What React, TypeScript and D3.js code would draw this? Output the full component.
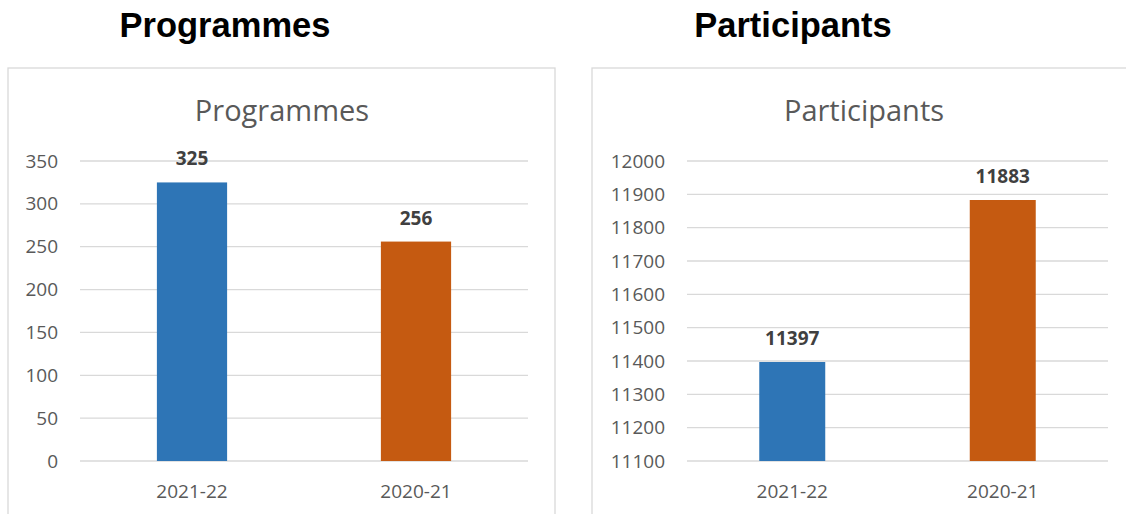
import React from "react";
import * as d3 from "d3";

const categories = ["2021-22", "2020-21"];
const programmeValues = [325, 256];
const participantValues = [11397, 11883];
const programmeTicks = [0, 50, 100, 150, 200, 250, 300, 350];
const participantTicks = [11100, 11200, 11300, 11400, 11500, 11600, 11700, 11800, 11900, 12000];
const colors = ["#2e75b6", "#c55a11"];

const FONT = "'Open Sans', 'Noto Sans', sans-serif";

type PanelProps = {
  title: string;
  values: number[];
  ticks: number[];
  domain: [number, number];
  box: { x: number; y: number; w: number; h: number };
  plot: { left: number; right: number; top: number; bottom: number };
  tickX: number;
  headingX: number;
  titleX: number;
};

function Panel({ title, values, ticks, domain, box, plot, tickX, headingX, titleX }: PanelProps) {
  const y = d3.scaleLinear().domain(domain).range([plot.bottom, plot.top]);
  const x = d3.scaleBand().domain(categories).range([plot.left, plot.right]);
  const band = x.bandwidth();
  const barW = band / 3.19;
  return (
    <g>
      <text x={headingX} y={37} textAnchor="middle" fontFamily="'Liberation Sans', Arial, sans-serif" fontWeight="bold" fontSize={34.5} fill="#000">{title}</text>
      <rect x={box.x} y={box.y} width={box.w} height={box.h} fill="#fff" stroke="#d9d9d9" strokeWidth={1.3} />
      <text x={titleX} y={121} textAnchor="middle" fontFamily={FONT} fontSize={29} fill="#595959">{title}</text>
      {ticks.map((t) => (
        <g key={t}>
          <line x1={plot.left} x2={plot.right} y1={y(t)} y2={y(t)} stroke="#d9d9d9" strokeWidth={1.3} />
          <text x={tickX} y={y(t) + 6.5} textAnchor="end" fontFamily={FONT} fontSize={19} fill="#595959">{t}</text>
        </g>
      ))}
      {categories.map((c, i) => {
        const cx = (x(c) as number) + band / 2;
        return (
          <g key={c}>
            <rect x={cx - barW / 2} y={y(values[i])} width={barW} height={y(domain[0]) - y(values[i])} fill={colors[i]} />
            <text x={cx} y={y(values[i]) - 17} textAnchor="middle" fontFamily={FONT} fontWeight="bold" fontSize={19} fill="#404040">{values[i]}</text>
            <text x={cx} y={plot.bottom + 37} textAnchor="middle" fontFamily={FONT} fontSize={19} fill="#595959">{c}</text>
          </g>
        );
      })}
    </g>
  );
}

export default function App() {
  return (
    <svg width={1126} height={514} style={{ position: "absolute", left: 0, top: 0 }}>
      <rect width={1126} height={514} fill="#fff" />
      <Panel
        title="Programmes"
        values={programmeValues}
        ticks={programmeTicks}
        domain={[0, 350]}
        box={{ x: 8, y: 68, w: 547, h: 460 }}
        plot={{ left: 80, right: 528, top: 161, bottom: 461 }}
        tickX={58}
        headingX={225}
        titleX={282}
      />
      <Panel
        title="Participants"
        values={participantValues}
        ticks={participantTicks}
        domain={[11100, 12000]}
        box={{ x: 592, y: 68, w: 560, h: 460 }}
        plot={{ left: 687, right: 1108, top: 161, bottom: 461 }}
        tickX={665}
        headingX={793}
        titleX={864}
      />
    </svg>
  );
}
